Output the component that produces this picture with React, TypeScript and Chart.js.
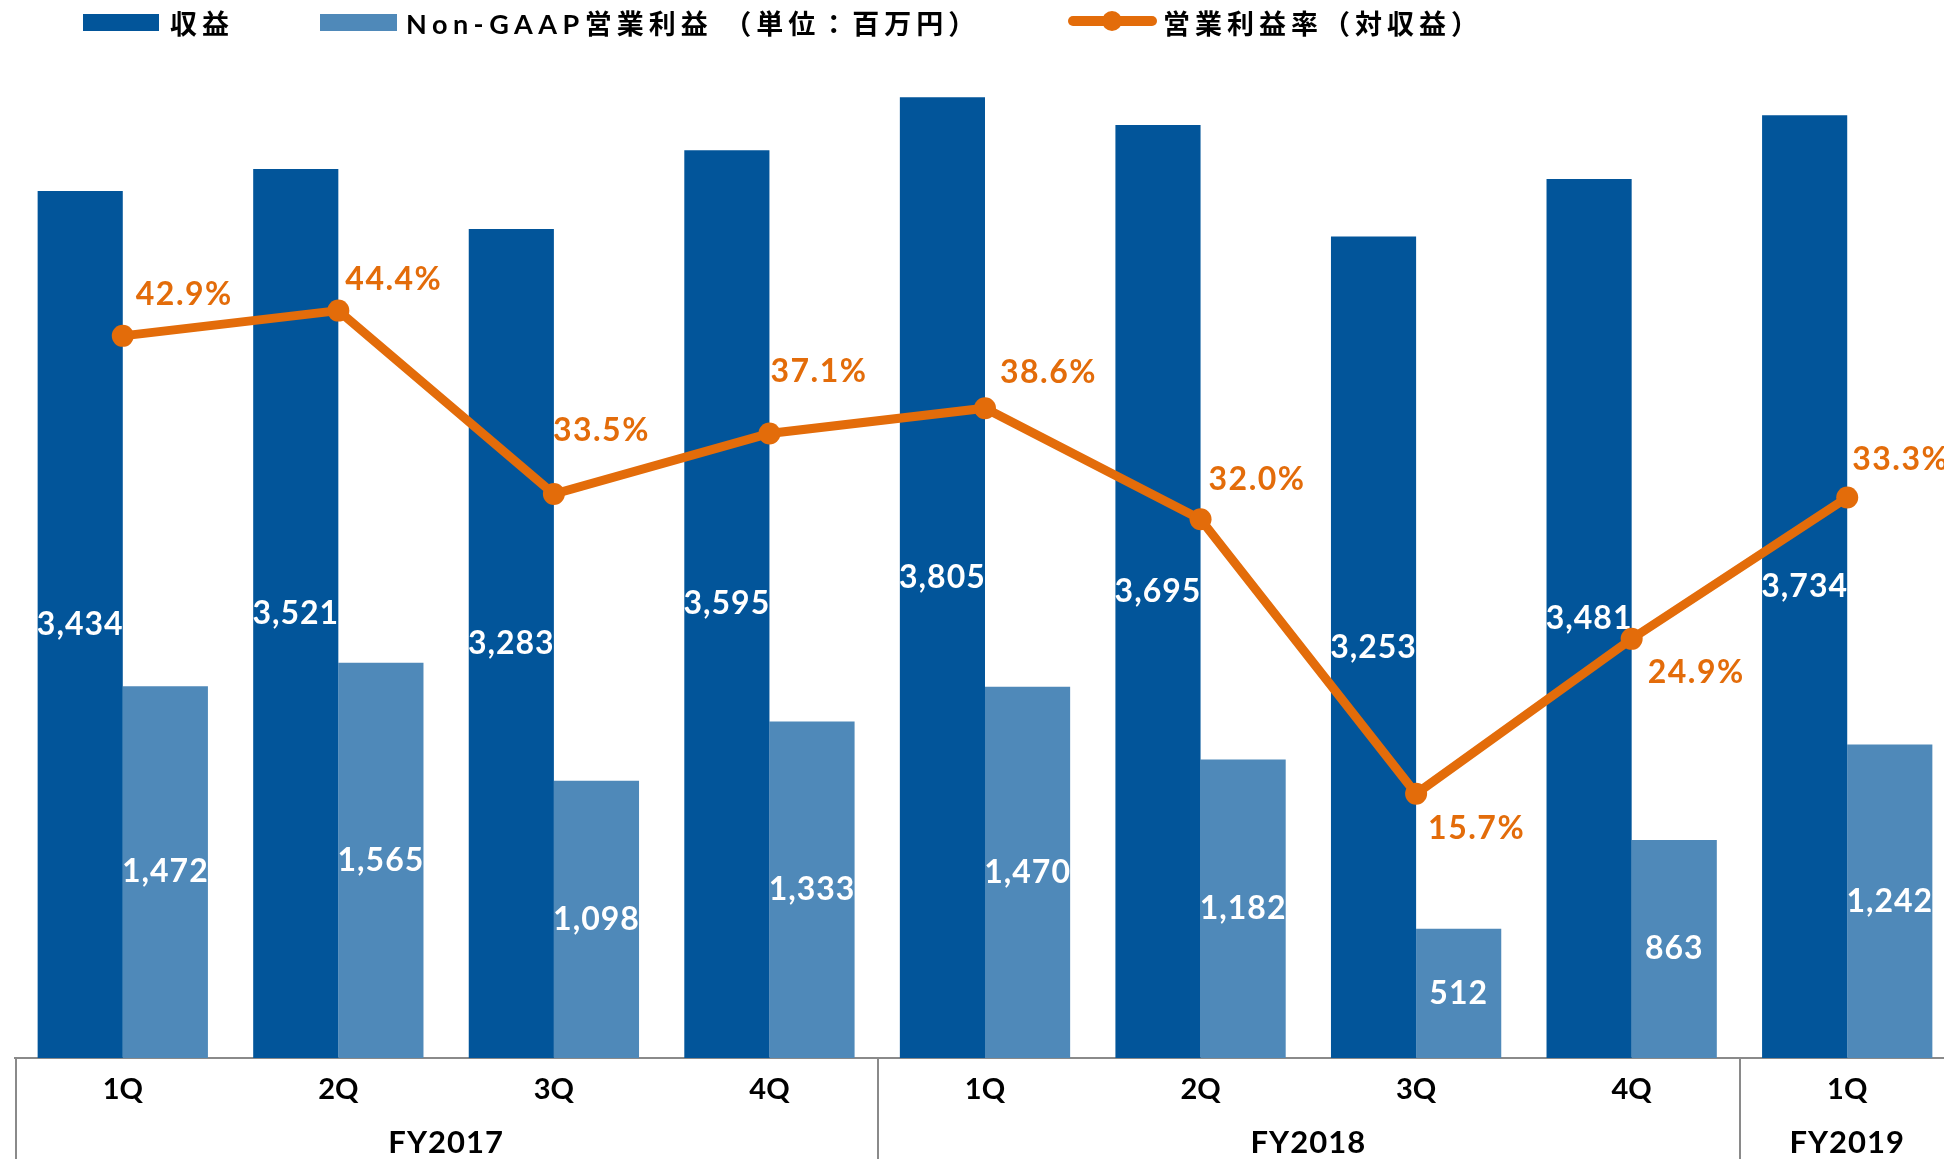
import React, { useEffect, useRef } from 'react';
import { Chart, registerables } from 'chart.js';

Chart.register(...registerables);

// ---- data ----
const quarters = ['1Q', '2Q', '3Q', '4Q', '1Q', '2Q', '3Q', '4Q', '1Q'];
const fiscalYears = ['FY2017', 'FY2018', 'FY2019'];
const quartersPerYear = [4, 4, 1];
const revenue = [3434, 3521, 3283, 3595, 3805, 3695, 3253, 3481, 3734];
const nonGaapOpIncome = [1472, 1565, 1098, 1333, 1470, 1182, 512, 863, 1242];
const opMargin = [42.9, 44.4, 33.5, 37.1, 38.6, 32.0, 15.7, 24.9, 33.3];
const seriesNames = ['収益', 'Non-GAAP営業利益 （単位：百万円）', '営業利益率（対収益）'];

// ---- style ----
const DARK = '#02559A';
const LIGHT = '#4F89B9';
const ORANGE = '#E36C0A';
const AXIS_GRAY = '#8a8a8a';
const FONT = 'Lato, "Noto Sans CJK JP", sans-serif';
// placement of the percentage annotations relative to their points
const marginLabelDx = [13, 7, -1, 1, 15, 8, 12, 16, 5];
const marginLabelDy = [-41, -31, -63, -62, -36, -40, 35, 34, -38];

const fmt = (v: number) => v.toLocaleString('en-US');

const annotationPlugin = {
  id: 'annotations',
  afterDatasetDraw(chart: any, args: any) {
    const ds = chart.data.datasets[args.index];
    if (ds.type !== 'bar') return;
    const ctx = chart.ctx;
    ctx.save();
    ctx.font = `bold 32px ${FONT}`;
    (ctx as any).letterSpacing = '1px';
    ctx.fillStyle = '#ffffff';
    ctx.textAlign = 'center';
    ctx.textBaseline = 'middle';
    args.meta.data.forEach((el: any, i: number) => {
      const p = el.getProps(['x', 'y', 'base'], true);
      ctx.fillText(fmt(ds.data[i]), p.x, (p.y + p.base) / 2);
    });
    ctx.restore();
  },
  afterDatasetsDraw(chart: any) {
    const ctx = chart.ctx;
    const lineIdx = chart.data.datasets.findIndex((d: any) => d.type === 'line');
    const meta = chart.getDatasetMeta(lineIdx);
    ctx.save();
    ctx.font = `bold 32px ${FONT}`;
    (ctx as any).letterSpacing = '1.5px';
    ctx.fillStyle = ORANGE;
    ctx.textAlign = 'left';
    ctx.textBaseline = 'middle';
    meta.data.forEach((el: any, i: number) => {
      ctx.fillText(opMargin[i].toFixed(1) + '%', el.x + marginLabelDx[i], el.y + marginLabelDy[i]);
    });
    ctx.restore();
  },
  afterDraw(chart: any) {
    const ctx = chart.ctx;
    const xs = chart.scales.x;
    const area = chart.chartArea;
    const half = (xs.getPixelForValue(1) - xs.getPixelForValue(0)) / 2;
    ctx.save();
    ctx.strokeStyle = AXIS_GRAY;
    ctx.lineWidth = 2;
    let start = 0;
    const bounds: number[] = [start];
    quartersPerYear.forEach((n) => {
      start += n;
      bounds.push(start);
    });
    // group separators (left edge of each fiscal year)
    bounds.slice(0, -1).forEach((b) => {
      const x = Math.round(xs.getPixelForValue(b) - half) + 1;
      ctx.beginPath();
      ctx.moveTo(x, area.bottom);
      ctx.lineTo(x, chart.height);
      ctx.stroke();
    });
    // fiscal year labels
    ctx.font = `bold 31px ${FONT}`;
    (ctx as any).letterSpacing = '1px';
    ctx.fillStyle = '#000';
    ctx.textAlign = 'center';
    ctx.textBaseline = 'middle';
    fiscalYears.forEach((fy, g) => {
      const a = xs.getPixelForValue(bounds[g]);
      const b = xs.getPixelForValue(bounds[g + 1] - 1);
      ctx.fillText(fy, (a + b) / 2, area.bottom + 85);
    });
    ctx.restore();
  },
};

export default function App() {
  const ref = useRef<HTMLCanvasElement | null>(null);

  useEffect(() => {
    if (!ref.current) return;
    const chart = new Chart(ref.current, {
      type: 'bar',
      data: {
        labels: quarters,
        datasets: [
          {
            type: 'line',
            label: seriesNames[2],
            data: opMargin,
            yAxisID: 'y1',
            borderColor: ORANGE,
            backgroundColor: ORANGE,
            borderWidth: 9,
            pointRadius: 11,
            pointBorderWidth: 0,
            pointBackgroundColor: ORANGE,
            tension: 0,
            clip: false,
            order: 0,
          } as any,
          {
            type: 'bar',
            label: seriesNames[0],
            data: revenue,
            yAxisID: 'y',
            backgroundColor: DARK,
            borderWidth: 0,
            categoryPercentage: 0.79,
            barPercentage: 1.0,
            order: 1,
          },
          {
            type: 'bar',
            label: seriesNames[1],
            data: nonGaapOpIncome,
            yAxisID: 'y',
            backgroundColor: LIGHT,
            borderWidth: 0,
            categoryPercentage: 0.79,
            barPercentage: 1.0,
            order: 2,
          },
        ],
      },
      options: {
        responsive: true,
        maintainAspectRatio: false,
        animation: false,
        devicePixelRatio: 1,
        layout: { autoPadding: false, padding: { left: 15, top: 48, right: 0, bottom: 0 } },
        plugins: { legend: { display: false }, tooltip: { enabled: false } },
        scales: {
          x: {
            grid: { display: false },
            border: { display: true, color: AXIS_GRAY, width: 2 },
            ticks: {
              color: '#000',
              font: { family: FONT, weight: 'bold', size: 29 },
              padding: 6,
              maxRotation: 0,
              autoSkip: false,
            },
            afterFit: (s: any) => {
              s.height = 101;
            },
          },
          y: { display: false, min: 0, max: 4000 },
          y1: { display: false, min: 0, max: 60, position: 'right' },
        },
      } as any,
      plugins: [annotationPlugin],
    });
    return () => chart.destroy();
  }, []);

  const textStyle: React.CSSProperties = {
    position: 'absolute',
    top: 9,
    font: `bold 27px ${FONT}`,
    lineHeight: '29px',
    letterSpacing: '5px',
    color: '#000',
    whiteSpace: 'nowrap',
  };

  return (
    <div
      style={{
        position: 'fixed',
        left: 0,
        top: 0,
        width: 1944,
        height: 1159,
        overflow: 'hidden',
        background: '#fff',
      }}
    >
      <div style={{ position: 'absolute', left: 0, top: 0, width: 1955, height: 1159 }}>
        <canvas ref={ref} />
      </div>
      <div style={{ position: 'absolute', left: 83, top: 14, width: 76, height: 17, background: DARK }} />
      <div style={{ ...textStyle, left: 170 }}>{seriesNames[0]}</div>
      <div style={{ position: 'absolute', left: 320, top: 14, width: 77, height: 17, background: LIGHT }} />
      <div style={{ ...textStyle, left: 406 }}>
        <span style={{ letterSpacing: '5.5px' }}>Non-GAAP</span>
        {seriesNames[1].slice('Non-GAAP'.length)}
      </div>
      <div
        style={{
          position: 'absolute',
          left: 1068,
          top: 16,
          width: 89,
          height: 10,
          borderRadius: 5,
          background: ORANGE,
        }}
      />
      <div
        style={{
          position: 'absolute',
          left: 1102,
          top: 11,
          width: 20,
          height: 20,
          borderRadius: 10,
          background: ORANGE,
        }}
      />
      <div style={{ ...textStyle, left: 1163 }}>{seriesNames[2]}</div>
    </div>
  );
}
